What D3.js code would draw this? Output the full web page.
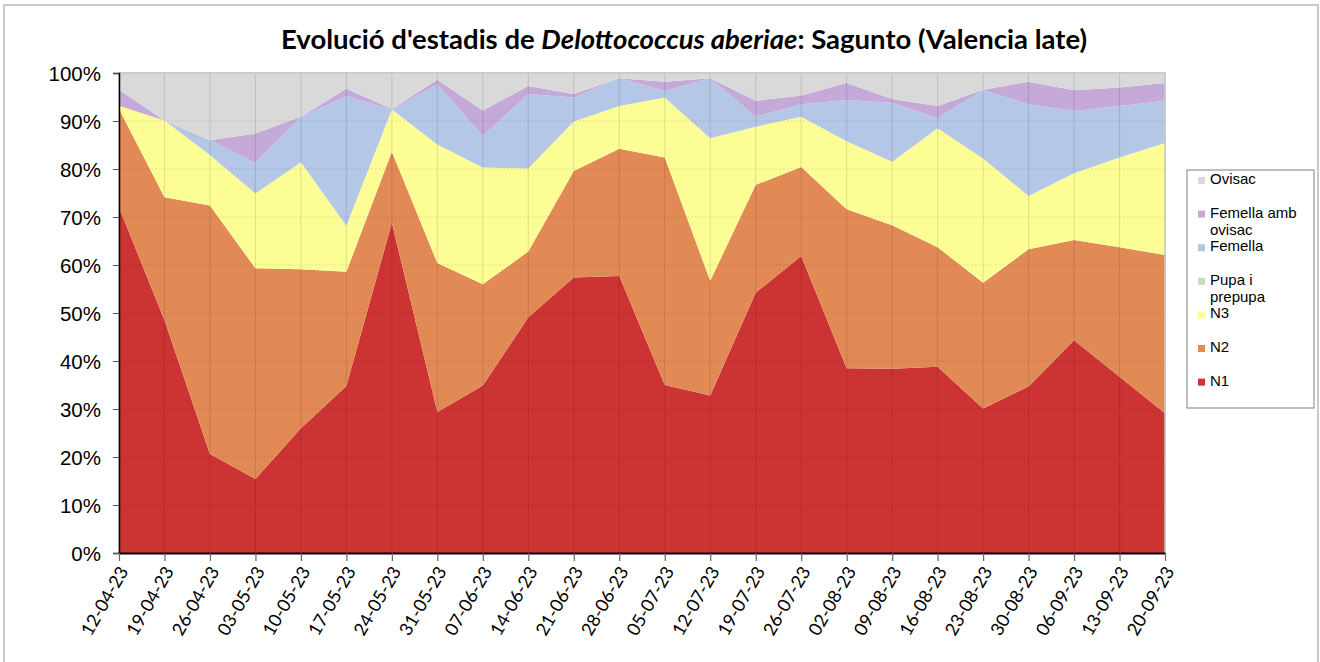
<!DOCTYPE html>
<html>
<head>
<meta charset="utf-8">
<script src="https://cdn.jsdelivr.net/npm/d3@7"></script>
<style>
  body { margin: 0; background: #fff; }
  .title { font-family: Lato, sans-serif; font-weight: bold; font-size: 27.5px; fill: #000; }
  .yLabel { font-family: "Liberation Sans", Arial, sans-serif; font-size: 20.5px; fill: #000; }
  .xLabel { font-family: Lato, sans-serif; font-size: 18px; fill: #000; }
  .legendText { font-family: "Liberation Sans", Arial, sans-serif; font-size: 15px; fill: #000; }
</style>
</head>
<body>
<script>
// chart values (percent of individuals per date)
var dates = ["12-04-23", "19-04-23", "26-04-23", "03-05-23", "10-05-23", "17-05-23", "24-05-23", "31-05-23",
             "07-06-23", "14-06-23", "21-06-23", "28-06-23", "05-07-23", "12-07-23", "19-07-23", "26-07-23",
             "02-08-23", "09-08-23", "16-08-23", "23-08-23", "30-08-23", "06-09-23", "13-09-23", "20-09-23"];
var n1 = [72.0, 48.5, 20.6, 15.4, 26.0, 34.8, 68.8, 29.4, 34.9, 49.1, 57.4, 57.7,
          35.0, 32.8, 54.2, 61.9, 38.5, 38.4, 38.8, 30.1, 34.7, 44.3, 36.7, 29.1];
var n2 = [20.5, 25.6, 51.8, 43.9, 33.1, 23.8, 14.8, 31.0, 21.1, 13.7, 22.2, 26.5,
          47.4, 23.9, 22.5, 18.5, 33.1, 29.9, 24.9, 26.2, 28.6, 20.9, 27.0, 33.0];
var n3 = [0.7, 16.0, 10.5, 15.6, 22.3, 9.6, 8.8, 24.7, 24.3, 17.3, 10.3, 8.9,
          12.5, 29.7, 12.1, 10.5, 14.2, 13.2, 24.8, 25.9, 11.1, 13.9, 18.7, 23.3];
var pupa = [0, 0, 0, 0, 0, 0, 0, 0, 0, 0, 0, 0,
            0, 0, 0, 0, 0, 0, 0, 0, 0, 0, 0, 0];
var femella = [0, 0, 3.1, 6.4, 9.5, 27.0, 0, 12.5, 6.6, 15.5, 5.0, 5.8,
               1.4, 12.5, 2.1, 2.6, 8.6, 12.3, 2.1, 14.2, 19.1, 13.0, 10.7, 8.8];
var femellaOvisac = [3.3, 0, 0, 6.1, 0, 1.5, 0.1, 1.0, 5.3, 1.7, 0.7, 0,
                     1.9, 0, 3.3, 1.8, 3.5, 0.8, 2.5, 0.1, 4.7, 4.3, 3.9, 3.7];
var ovisac = [3.5, 9.9, 14.0, 12.6, 9.1, 3.3, 7.5, 1.4, 7.8, 2.7, 4.4, 1.1,
              1.8, 1.1, 5.8, 4.7, 2.1, 5.4, 6.9, 3.5, 1.8, 3.6, 3.0, 2.1];
var yTicks = [0, 10, 20, 30, 40, 50, 60, 70, 80, 90, 100];

// series in stacking order (bottom first)
var keys = ["N1", "N2", "N3", "Pupa i prepupa", "Femella", "Femella amb ovisac", "Ovisac"];
var seriesValues = [n1, n2, n3, pupa, femella, femellaOvisac, ovisac];
var colors = ["#cc3333", "#e28a55", "#fdfd96", "#c5e0b4", "#b4c7e7", "#c5a9d8", "#d9d9d9"];
var legendNames = ["N1", "N2", "N3", ["Pupa i", "prepupa"], "Femella", ["Femella amb", "ovisac"], "Ovisac"];

window.onload = function() {
  drawChart();
};

function drawChart() {
  var width = 1320,
      height = 662,
      left = 119, right = 1165,
      top = 73, bottom = 553;

  var svg = d3.select("body")
      .append("svg")
      .attr("width", width)
      .attr("height", height);

  // outer chart border
  svg.append("rect")
      .attr("x", 4).attr("y", 5)
      .attr("width", 1314).attr("height", 665)
      .attr("fill", "#fff")
      .attr("stroke", "#c9c9c9")
      .attr("stroke-width", 2);

  // build rows for the stack
  var table = dates.map(function(d, i) {
    var row = { date: d };
    keys.forEach(function(k, j) { row[k] = seriesValues[j][i]; });
    return row;
  });

  var x = d3.scalePoint().domain(dates).range([left, right]);
  var y = d3.scaleLinear().domain([0, 100]).range([bottom, top]);

  var stack = d3.stack().keys(keys);
  var layers = stack(table);

  var area = d3.area()
      .x(function(d) { return x(d.data.date); })
      .y0(function(d) { return y(d[0]); })
      .y1(function(d) { return y(d[1]); });

  // plot area background
  svg.append("rect")
      .attr("x", left).attr("y", top)
      .attr("width", right - left).attr("height", bottom - top)
      .attr("fill", "#fff")
      .attr("stroke", "#c8c8c8")
      .attr("stroke-width", 1.5);

  svg.selectAll(".layer")
      .data(layers)
      .enter()
      .append("path")
      .attr("class", "layer")
      .attr("d", area)
      .attr("fill", function(d, i) { return colors[i]; });

  // gridlines drawn over the areas
  svg.selectAll(".vGrid")
      .data(dates.slice(1, -1))
      .enter()
      .append("line")
      .attr("class", "vGrid")
      .attr("x1", function(d) { return x(d); })
      .attr("x2", function(d) { return x(d); })
      .attr("y1", top).attr("y2", bottom)
      .attr("stroke", "#000")
      .attr("stroke-opacity", 0.1)
      .attr("stroke-width", 1.2);

  svg.selectAll(".hGrid")
      .data(yTicks.slice(1, -1))
      .enter()
      .append("line")
      .attr("class", "hGrid")
      .attr("x1", left).attr("x2", right)
      .attr("y1", function(d) { return y(d); })
      .attr("y2", function(d) { return y(d); })
      .attr("stroke", "#000")
      .attr("stroke-opacity", 0.1)
      .attr("stroke-dasharray", "2,2");

  // plot top / right border
  svg.append("path")
      .attr("d", "M" + left + "," + top + "H" + right + "V" + bottom)
      .attr("fill", "none")
      .attr("stroke", "#c8c8c8")
      .attr("stroke-width", 1.5);

  // y axis
  var yAxis = svg.append("g")
      .attr("transform", "translate(" + left + ",0)")
      .call(d3.axisLeft(y).tickValues(yTicks).tickSize(6).tickFormat(function(d) { return d + "%"; }));
  yAxis.select(".domain").attr("stroke", "#000").attr("stroke-width", 1.5);
  yAxis.selectAll(".tick line").attr("stroke", "#555");
  yAxis.selectAll(".tick text")
      .attr("class", "yLabel")
      .attr("x", -18)
      .attr("dy", "0.35em")
      .attr("font-family", null).attr("font-size", null);

  // x axis
  var xAxis = svg.append("g")
      .attr("transform", "translate(0," + bottom + ")")
      .call(d3.axisBottom(x).tickSize(8).tickSizeOuter(0));
  xAxis.select(".domain").attr("stroke", "#000").attr("stroke-width", 2);
  xAxis.selectAll(".tick line").attr("stroke", "#666").attr("stroke-width", 1.2);
  xAxis.selectAll(".tick text")
      .attr("class", "xLabel")
      .attr("font-family", null).attr("font-size", null)
      .attr("y", 0).attr("dy", null)
      .attr("text-anchor", "end")
      .attr("transform", "translate(4,15) rotate(-60)")
      .attr("dy", "0.35em");

  // title
  var title = svg.append("text")
      .attr("class", "title")
      .attr("x", 684)
      .attr("y", 49)
      .attr("text-anchor", "middle");
  title.append("tspan").text("Evolució d'estadis de ");
  title.append("tspan").style("font-style", "italic").text("Delottococcus aberiae");
  title.append("tspan").text(": Sagunto (Valencia late)");

  // legend
  svg.append("rect")
      .attr("x", 1187).attr("y", 170)
      .attr("width", 127).attr("height", 238)
      .attr("fill", "#fff")
      .attr("stroke", "#7f7f7f")
      .attr("stroke-width", 1);

  var legendOrder = d3.range(keys.length).reverse();
  var legend = svg.selectAll(".legendItem")
      .data(legendOrder)
      .enter()
      .append("g")
      .attr("class", "legendItem")
      .attr("transform", function(d, i) { return "translate(1198," + (177 + i * 33.6) + ")"; });

  legend.append("rect")
      .attr("width", 7).attr("height", 7)
      .attr("fill", function(d) { return colors[d]; });

  legend.append("text")
      .attr("class", "legendText")
      .attr("x", 12)
      .attr("y", 7)
      .each(function(d) {
        var name = legendNames[d];
        var lines = Array.isArray(name) ? name : [name];
        var t = d3.select(this);
        lines.forEach(function(line, j) {
          t.append("tspan").attr("x", 12).attr("dy", j === 0 ? 0 : 17).text(line);
        });
      });
}
</script>
</body>
</html>
